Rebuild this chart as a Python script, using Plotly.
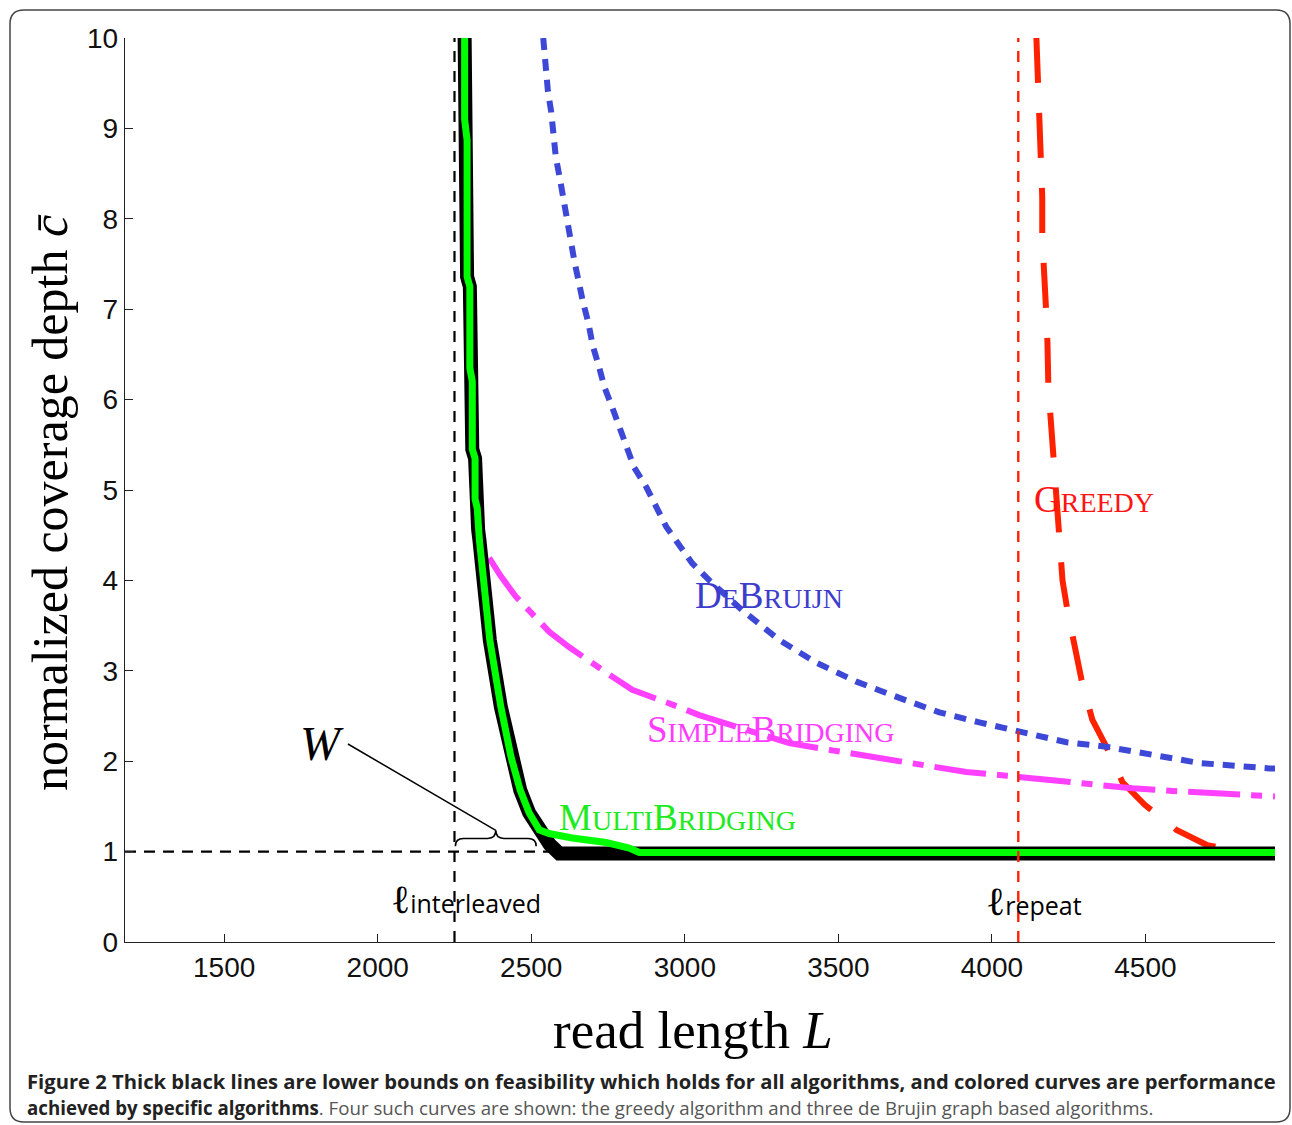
import plotly.graph_objects as go

# ---------------- data ----------------
X_RANGE = [1177, 4922]
Y_RANGE = [0, 10]
x_ticks = [1500, 2000, 2500, 3000, 3500, 4000, 4500]
y_ticks = [0, 1, 2, 3, 4, 5, 6, 7, 8, 9, 10]

L_INTERLEAVED = 2250
L_REPEAT = 4086
C_ONE = 1.0

# lower bound (thick black)
lb_x = [2283, 2283, 2291, 2291, 2300, 2300, 2308, 2308, 2317, 2317, 2324, 2327, 2331,
        2365, 2401, 2434, 2464, 2493, 2526, 2560, 2591, 4922]
lb_y = [10, 9.1, 8.87, 7.36, 7.25, 6.35, 6.2, 5.45, 5.35, 4.9, 4.8, 4.56, 4.45,
        3.34, 2.6, 2.05, 1.68, 1.43, 1.24, 1.08, 0.98, 0.98]

# MultiBridging (green)
mb_x = [2283, 2283, 2291, 2291, 2300, 2300, 2308, 2308, 2317, 2317, 2324, 2327, 2331,
        2365, 2401, 2434, 2464, 2493, 2526, 2558, 2633, 2744, 2819, 2852, 4922]
mb_y = [10, 9.1, 8.87, 7.36, 7.25, 6.35, 6.2, 5.45, 5.35, 4.9, 4.8, 4.56, 4.45,
        3.34, 2.6, 2.05, 1.68, 1.43, 1.24, 1.2, 1.15, 1.10, 1.04, 0.99, 0.99]

# DeBruijn (blue)
db_x = [2539, 2546, 2554, 2565, 2572, 2580, 2593, 2604, 2613, 2627, 2640, 2654, 2669,
        2686, 2700, 2721, 2738, 2763, 2787, 2813, 2835, 2875, 2940, 3024, 3080, 3187,
        3308, 3428, 3559, 3699, 3829, 3959, 4090, 4243, 4373, 4513, 4676, 4904, 4922]
db_y = [10, 9.68, 9.42, 9.18, 8.95, 8.68, 8.45, 8.21, 8.02, 7.79, 7.54, 7.30, 7.07,
        6.85, 6.60, 6.36, 6.14, 5.92, 5.70, 5.48, 5.25, 5.03, 4.59, 4.19, 4.0, 3.67,
        3.34, 3.09, 2.88, 2.70, 2.54, 2.43, 2.33, 2.21, 2.16, 2.07, 1.98, 1.92, 1.92]

# SimpleBridging (magenta)
sb_x = [2363, 2400, 2450, 2493, 2559, 2624, 2690, 2744, 2829, 2907, 2980, 3047, 3200,
        3340, 3480, 3568, 3721, 3806, 3917, 4047, 4132, 4243, 4458, 4588, 4783, 4922]
sb_y = [4.25, 4.05, 3.82, 3.67, 3.43, 3.26, 3.1, 2.98, 2.79, 2.70, 2.6, 2.51, 2.35,
        2.20, 2.12, 2.07, 1.98, 1.94, 1.88, 1.84, 1.81, 1.77, 1.70, 1.67, 1.63, 1.61]

# Greedy (red)
gr_x = [4145, 4151, 4158, 4164, 4164, 4171, 4177, 4181, 4184, 4191, 4197, 4200, 4213,
        4226, 4230, 4246, 4275, 4292, 4327, 4373, 4425, 4497, 4601, 4702, 4780, 4922]
gr_y = [10, 9.5, 8.65, 8.24, 7.8, 7.43, 6.96, 6.63, 6.13, 5.81, 5.55, 5.3, 4.75,
        4.23, 4.0, 3.67, 3.23, 2.9, 2.46, 2.16, 1.77, 1.52, 1.24, 1.07, 1.02, 1.0]

# brace "W" between l_interleaved and the knee of the lower bound
BRACE_X0, BRACE_X1 = 2253, 2516
BRACE_Y_BASE, BRACE_Y_ARM, BRACE_Y_TIP = 1.06, 1.145, 1.235
W_LINE_END = (1903, 2.19)

# ---------------- colours ----------------
BLUE = "rgb(62,72,214)"
RED = "rgb(255,34,0)"
MAGENTA = "rgb(255,64,255)"
GREEN = "rgb(0,255,0)"

W_PX, H_PX = 1292, 1125
ML, MR, MT, MB = 125, 17, 38, 183
PW = W_PX - ML - MR
PH = H_PX - MT - MB


def PX(px):
    return (px - ML) / PW


def PY(py):
    return (H_PX - MB - py) / PH


fig = go.Figure()

# horizontal dashed c = 1 (bottom layer)
fig.add_trace(go.Scatter(x=[X_RANGE[0], X_RANGE[1]], y=[C_ONE, C_ONE], mode="lines",
                         line=dict(color="black", width=2.2, dash="11px,8px"),
                         hoverinfo="skip", showlegend=False))
# l_interleaved
fig.add_trace(go.Scatter(x=[L_INTERLEAVED, L_INTERLEAVED], y=Y_RANGE, mode="lines",
                         line=dict(color="black", width=2.2, dash="11px,9px"),
                         hoverinfo="skip", showlegend=False))

fig.add_trace(go.Scatter(x=gr_x, y=gr_y, mode="lines",
                         line=dict(color=RED, width=6, dash="45px,30px"),
                         showlegend=False))
fig.add_trace(go.Scatter(x=db_x, y=db_y, mode="lines",
                         line=dict(color=BLUE, width=6, dash="12px,9px"),
                         showlegend=False))
fig.add_trace(go.Scatter(x=sb_x, y=sb_y, mode="lines",
                         line=dict(color=MAGENTA, width=6, dash="52px,11px,11px,11px"),
                         showlegend=False))
fig.add_trace(go.Scatter(x=lb_x, y=lb_y, mode="lines",
                         line=dict(color="black", width=14),
                         showlegend=False))
fig.add_trace(go.Scatter(x=mb_x, y=mb_y, mode="lines",
                         line=dict(color=GREEN, width=7),
                         showlegend=False))
# l_repeat
fig.add_trace(go.Scatter(x=[L_REPEAT, L_REPEAT], y=Y_RANGE, mode="lines",
                         line=dict(color=RED, width=2.4, dash="11px,9px"),
                         hoverinfo="skip", showlegend=False))

SERIF = "Liberation Serif"


def smallcaps(word, big=37, small=28):
    out = []
    for part in word:
        first, rest = part[0], part[1:]
        out.append(f"<span style='font-size:{big}px'>{first}</span>"
                   f"<span style='font-size:{small}px'>{rest.upper()}</span>")
    return "".join(out)


annotations = [
    dict(x=4131, y=4.89, xref="x", yref="y", xanchor="left", yanchor="middle",
         text=smallcaps(["Greedy"]), font=dict(family=SERIF, color="rgb(255,20,20)", size=28),
         showarrow=False),
    dict(x=3027, y=3.83, xref="x", yref="y", xanchor="left", yanchor="middle",
         text=smallcaps(["De", "Bruijn"]), font=dict(family=SERIF, color="rgb(60,60,205)", size=28),
         showarrow=False),
    dict(x=2871, y=2.35, xref="x", yref="y", xanchor="left", yanchor="middle",
         text=smallcaps(["Simple", "Bridging"]), font=dict(family=SERIF, color="rgb(255,60,255)", size=28),
         showarrow=False),
    dict(x=2584, y=1.38, xref="x", yref="y", xanchor="left", yanchor="middle",
         text=smallcaps(["Multi", "Bridging"]), font=dict(family=SERIF, color="rgb(30,235,30)", size=28),
         showarrow=False),
    dict(x=1819, y=2.2, xref="x", yref="y", xanchor="center", yanchor="middle",
         text="<i>W</i>", font=dict(family=SERIF, color="black", size=48),
         showarrow=False),
    dict(x=PX(389), y=PY(899), xref="paper", yref="paper", xanchor="left", yanchor="middle",
         text="<span style='font-family:Liberation Serif;font-size:40px'>ℓ</span>"
              "<span style='font-family:Open Sans;font-size:25px'>interleaved</span>",
         font=dict(family="Open Sans", color="black", size=25), showarrow=False),
    dict(x=PX(984), y=PY(901), xref="paper", yref="paper", xanchor="left", yanchor="middle",
         text="<span style='font-family:Liberation Serif;font-size:40px'>ℓ</span>"
              "<span style='font-family:Open Sans;font-size:25px'>repeat</span>",
         font=dict(family="Open Sans", color="black", size=25), showarrow=False),
    # axis titles
    dict(x=PX(50), y=PY(503), xref="paper", yref="paper", xanchor="center", yanchor="middle",
         text="normalized coverage depth <i>c̄</i>", textangle=-90,
         font=dict(family=SERIF, color="black", size=50), showarrow=False),
    dict(x=PX(693), y=PY(1030), xref="paper", yref="paper", xanchor="center", yanchor="middle",
         text="read length <i>L</i>",
         font=dict(family=SERIF, color="black", size=53), showarrow=False),
    # caption
    dict(x=PX(25), y=PY(1081), xref="paper", yref="paper", xanchor="left", yanchor="middle",
         text="<b>Figure 2 Thick black lines are lower bounds on feasibility which holds for all "
              "algorithms, and colored curves are performance</b>",
         font=dict(family="Open Sans", color="#222", size=20.2), showarrow=False),
    dict(x=PX(25), y=PY(1107), xref="paper", yref="paper", xanchor="left", yanchor="middle",
         text="<b>achieved by specific algorithms</b><span style='color:#555'>. Four such curves are shown: "
              "the greedy algorithm and three de Brujin graph based algorithms.</span>",
         font=dict(family="Open Sans", color="#222", size=18.7), showarrow=False),
]

# shapes: brace, W pointer line, border box
bx0, bx1 = BRACE_X0, BRACE_X1
bm = (bx0 + bx1) / 2
dx = 26
brace_path = (f"M {bx0},{BRACE_Y_BASE} Q {bx0},{BRACE_Y_ARM} {bx0 + dx},{BRACE_Y_ARM} "
              f"L {bm - dx},{BRACE_Y_ARM} Q {bm},{BRACE_Y_ARM} {bm},{BRACE_Y_TIP} "
              f"Q {bm},{BRACE_Y_ARM} {bm + dx},{BRACE_Y_ARM} "
              f"L {bx1 - dx},{BRACE_Y_ARM} Q {bx1},{BRACE_Y_ARM} {bx1},{BRACE_Y_BASE}")

x0, y0, x1, y1, r = 10, 10, 1290, 1122, 14
box_path = (f"M {PX(x0 + r)},{PY(y0)} L {PX(x1 - r)},{PY(y0)} Q {PX(x1)},{PY(y0)} {PX(x1)},{PY(y0 + r)} "
            f"L {PX(x1)},{PY(y1 - r)} Q {PX(x1)},{PY(y1)} {PX(x1 - r)},{PY(y1)} "
            f"L {PX(x0 + r)},{PY(y1)} Q {PX(x0)},{PY(y1)} {PX(x0)},{PY(y1 - r)} "
            f"L {PX(x0)},{PY(y0 + r)} Q {PX(x0)},{PY(y0)} {PX(x0 + r)},{PY(y0)} Z")

shapes = [
    dict(type="path", xref="x", yref="y", path=brace_path, line=dict(color="black", width=1.6)),
    dict(type="line", xref="x", yref="y", x0=bm, y0=BRACE_Y_TIP, x1=W_LINE_END[0], y1=W_LINE_END[1],
         line=dict(color="black", width=1.5)),
    dict(type="path", xref="paper", yref="paper", path=box_path, line=dict(color="#444", width=1.5)),
]

fig.update_layout(
    width=W_PX, height=H_PX,
    margin=dict(l=ML, r=MR, t=MT, b=MB, pad=0),
    paper_bgcolor="white", plot_bgcolor="white",
    showlegend=False,
    annotations=annotations,
    shapes=shapes,
    xaxis=dict(range=X_RANGE, tickmode="array", tickvals=x_ticks, ticktext=[str(v) for v in x_ticks],
               ticks="inside", ticklen=8, tickwidth=1.2, tickcolor="#222",
               showline=True, linecolor="#222", linewidth=1.4, mirror=False,
               showgrid=False, zeroline=False,
               tickfont=dict(family="Liberation Sans", size=28, color="#111")),
    yaxis=dict(range=Y_RANGE, tickmode="array", tickvals=y_ticks, ticktext=[str(v) for v in y_ticks],
               ticks="inside", ticklen=8, tickwidth=1.2, tickcolor="#222",
               showline=True, linecolor="#222", linewidth=1.4, mirror=False,
               showgrid=False, zeroline=False,
               tickfont=dict(family="Liberation Sans", size=28, color="#111")),
)

fig.write_html("out.html", config={"displayModeBar": False},
               post_script="document.body.style.margin='0px';")
